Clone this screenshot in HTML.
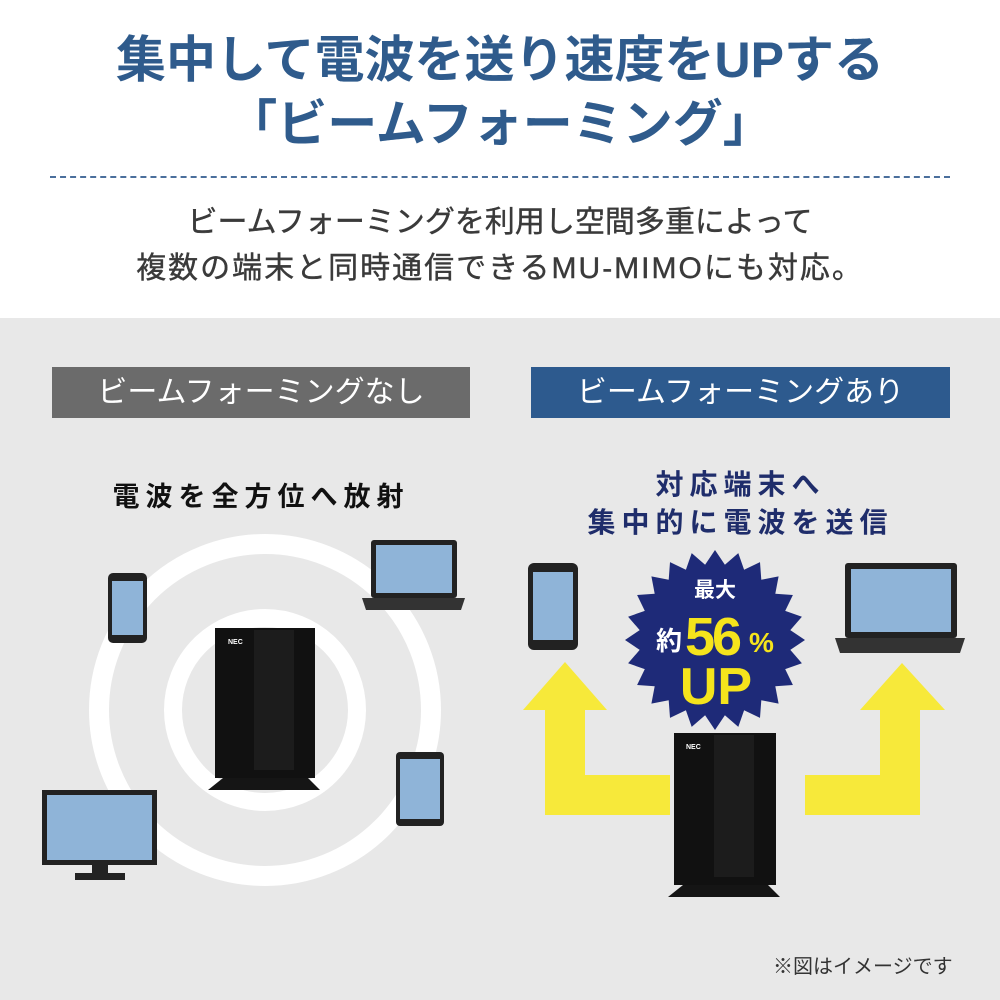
<!DOCTYPE html>
<html><head><meta charset="utf-8"><style>
body{margin:0;width:1000px;height:1000px;position:relative;overflow:hidden;background:#fff;font-family:"Liberation Sans","Noto Sans CJK JP",sans-serif}
.a{position:absolute;white-space:nowrap}
</style></head><body>
<div class="a" style="left:0;width:1000px;top:28px;text-align:center;font-size:50px;font-weight:bold;color:#2f5b8c;line-height:64px">集中して電波を送り速度をUPする</div>
<div class="a" style="left:0;width:1000px;top:92px;text-align:center;font-size:50px;font-weight:bold;color:#2f5b8c;line-height:64px">「ビームフォーミング」</div>
<div class="a" style="left:50px;width:900px;top:176px;border-top:2px dashed #4a6f9c"></div>
<div class="a" style="left:0;width:1000px;top:203px;text-align:center;font-size:30px;color:#3a3a3a;line-height:40px;-webkit-text-stroke:0.4px #3a3a3a">ビームフォーミングを利用し空間多重によって</div>
<div class="a" style="left:0;width:1000px;top:249px;text-align:center;font-size:30px;color:#3a3a3a;line-height:40px;letter-spacing:2px;-webkit-text-stroke:0.4px #3a3a3a">複数の端末と同時通信できるMU-MIMOにも対応。</div>
<div class="a" style="left:0;top:318px;width:1000px;height:682px;background:#e8e8e8"></div>
<div class="a" style="left:52px;top:367px;width:418px;height:51px;background:#6b6b6b;color:#fff;font-size:30px;text-align:center;line-height:51px">ビームフォーミングなし</div>
<div class="a" style="left:531px;top:367px;width:419px;height:51px;background:#2d5a8e;color:#fff;font-size:30px;text-align:center;line-height:51px">ビームフォーミングあり</div>
<div class="a" style="left:52px;width:418px;top:475px;text-align:center;font-size:27px;font-weight:bold;color:#111;letter-spacing:6px">電波を全方位へ放射</div>
<div class="a" style="left:531px;width:419px;top:466px;text-align:center;font-size:28px;font-weight:bold;color:#1f2d6b;letter-spacing:6px;line-height:38px">対応端末へ<br>集中的に電波を送信</div>
<svg class="a" style="left:0;top:0" width="1000" height="1000">
<circle cx="265" cy="710" r="166" fill="none" stroke="#fff" stroke-width="20"/>
<circle cx="265" cy="710" r="92" fill="none" stroke="#fff" stroke-width="18"/>
<rect x="108" y="573" width="39" height="70" rx="5" fill="#222"/><rect x="112" y="581" width="31" height="54" fill="#8fb4d8"/>
<rect x="371" y="540" width="86" height="58" rx="3" fill="#222"/><rect x="376" y="545" width="76" height="48" fill="#8fb4d8"/><path d="M362 598h103l-4 12h-95z" fill="#333"/>
<rect x="396" y="752" width="48" height="74" rx="4" fill="#222"/><rect x="400" y="759" width="40" height="60" fill="#8fb4d8"/>
<rect x="42" y="790" width="115" height="75" fill="#222"/><rect x="47" y="795" width="105" height="65" fill="#8fb4d8"/><rect x="92" y="865" width="16" height="8" fill="#222"/><rect x="75" y="873" width="50" height="7" fill="#222"/>
<rect x="215" y="628" width="100" height="150" fill="#111"/><rect x="254" y="630" width="40" height="140" fill="#1c1c1c"/><path d="M208 790l15-12h85l12 12z" fill="#151515"/>
<text x="228" y="644" font-size="7" fill="#fff" font-weight="bold">NEC</text>
<path d="M523 710L565 662L607 710H585V775H670V815H545V710Z" fill="#f7e93a"/>
<path d="M805 775H880V710H860L902 663L945 710H920V815H805Z" fill="#f7e93a"/>
<rect x="528" y="563" width="50" height="87" rx="6" fill="#222"/><rect x="533" y="572" width="40" height="68" fill="#8fb4d8"/>
<rect x="845" y="563" width="112" height="75" rx="3" fill="#222"/><rect x="851" y="569" width="100" height="63" fill="#8fb4d8"/><path d="M835 638h130l-5 15h-120z" fill="#333"/>
<rect x="674" y="733" width="102" height="152" fill="#111"/><rect x="714" y="735" width="40" height="142" fill="#1c1c1c"/><path d="M668 897l15-12h85l12 12z" fill="#151515"/>
<text x="686" y="749" font-size="7" fill="#fff" font-weight="bold">NEC</text>
<polygon id="st" fill="#1e2a78" points=""/>
<text x="715" y="597" font-size="21" font-weight="bold" fill="#fff" text-anchor="middle" font-family="Liberation Sans,Noto Sans CJK JP,sans-serif">最大</text>
<text x="656" y="650" font-size="26" font-weight="bold" fill="#fff" font-family="Liberation Sans,Noto Sans CJK JP,sans-serif">約</text>
<text x="685" y="655" font-size="54" font-weight="bold" fill="#f5e41c" letter-spacing="-3" font-family="Liberation Sans,sans-serif">56</text>
<text x="749" y="652" font-size="28" font-weight="bold" fill="#f5e41c" font-family="Liberation Sans,sans-serif">%</text>
<text x="716" y="704" font-size="52" font-weight="bold" fill="#f5e41c" text-anchor="middle" font-family="Liberation Sans,sans-serif">UP</text>
</svg>
<script>
var p=[],n=24,cx=715,cy=640;for(var i=0;i<2*n;i++){var r=i%2?76:90,a=Math.PI*i/n-Math.PI/2;p.push((cx+r*Math.cos(a)).toFixed(1)+","+(cy+r*Math.sin(a)).toFixed(1));}
document.getElementById("st").setAttribute("points",p.join(" "));
</script>
<div class="a" style="left:773px;top:950px;font-size:20px;color:#333">※図はイメージです</div>
</body></html>
